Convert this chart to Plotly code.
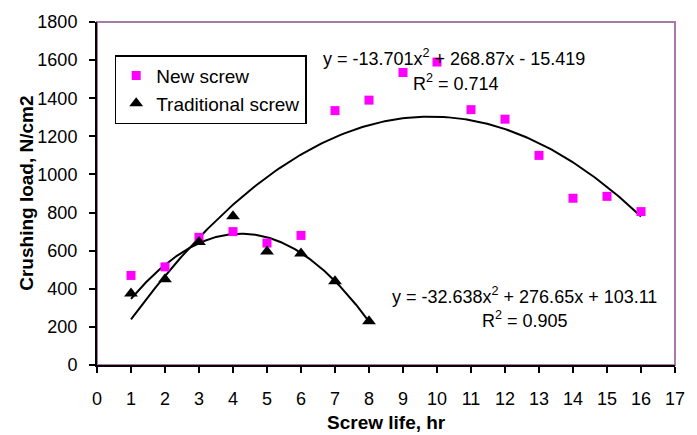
import numpy as np
import plotly.graph_objects as go

# Screw life (hours) and measured crushing load (N/cm2)
new_life = [1, 2, 3, 4, 5, 6, 7, 8, 9, 10, 11, 12, 13, 14, 15, 16]
new_load = [470, 515, 670, 700, 640, 680, 1335, 1390, 1535, 1590, 1340, 1290, 1100, 875, 885, 805]

trad_life = [1, 2, 3, 4, 5, 6, 7, 8]
trad_load = [375, 450, 645, 780, 595, 585, 440, 230]

# Second-order polynomial trendline coefficients (a*x^2 + b*x + c)
new_fit = [-13.701, 268.87, -15.419]
trad_fit = [-32.638, 276.65, 103.11]

x_ticks = list(range(0, 18))
y_ticks = list(range(0, 2000, 200))

FONT = "Liberation Sans, Arial, sans-serif"


def trend(coefs, x0, x1):
    xs = np.linspace(x0, x1, 200)
    return xs, np.polyval(coefs, xs)


fig = go.Figure()

nx, ny = trend(new_fit, min(new_life), max(new_life))
tx, ty = trend(trad_fit, min(trad_life), max(trad_life))

fig.add_trace(go.Scatter(x=nx, y=ny, mode="lines", line=dict(color="black", width=2),
                         showlegend=False, hoverinfo="skip"))
fig.add_trace(go.Scatter(x=tx, y=ty, mode="lines", line=dict(color="black", width=2),
                         showlegend=False, hoverinfo="skip"))

fig.add_trace(go.Scatter(
    x=new_life, y=new_load, mode="markers", name="New screw",
    marker=dict(symbol="square", size=9, color="#FF00FF", line=dict(width=0)),
))
fig.add_trace(go.Scatter(
    x=trad_life, y=trad_load, mode="markers", name="Traditional screw",
    marker=dict(symbol="triangle-up", size=12, color="black", line=dict(width=0)),
))

annotations = [
    dict(x=10.49, y=1615, xref="x", yref="y", showarrow=False,
         text="y = -13.701x<sup>2</sup> + 268.87x - 15.419", font=dict(size=18)),
    dict(x=10.55, y=1485, xref="x", yref="y", showarrow=False,
         text="R<sup>2</sup> = 0.714", font=dict(size=18)),
    dict(x=12.58, y=367, xref="x", yref="y", showarrow=False,
         text="y = -32.638x<sup>2</sup> + 276.65x + 103.11", font=dict(size=18)),
    dict(x=12.6, y=237, xref="x", yref="y", showarrow=False,
         text="R<sup>2</sup> = 0.905", font=dict(size=18)),
    dict(x=0.5, y=-0.169, xref="paper", yref="paper", showarrow=False,
         text="<b>Screw life, hr</b>", font=dict(size=19), yanchor="middle"),
    dict(x=-0.1224, y=0.5, xref="paper", yref="paper", showarrow=False,
         text="<b>Crushing load, N/cm2</b>", font=dict(size=19), textangle=-90,
         xanchor="center", yanchor="middle"),
]

fig.update_layout(
    width=697, height=435,
    margin=dict(l=97, r=12, t=19.5, b=69.5),
    paper_bgcolor="white", plot_bgcolor="white",
    font=dict(family=FONT, color="black", size=18),
    showlegend=True,
    legend=dict(
        x=0.0306, y=0.903, xanchor="left", yanchor="top",
        bgcolor="white", bordercolor="black", borderwidth=1.5,
        font=dict(size=19), itemwidth=30,
    ),
    annotations=annotations,
    shapes=[dict(type="rect", xref="paper", yref="paper", x0=0, y0=0, x1=1, y1=1,
                 line=dict(color="#A77BA7", width=2), layer="below")],
)

fig.update_xaxes(
    range=[0, 17], tickvals=x_ticks, ticktext=[str(v) for v in x_ticks],
    showgrid=False, zeroline=False, showline=True, linecolor="black", linewidth=2,
    ticks="outside", ticklen=6, tickwidth=1.5, tickcolor="black",
    tickfont=dict(size=18), ticklabelstandoff=10,
)
fig.update_yaxes(
    range=[0, 1800], tickvals=y_ticks, ticktext=[str(v) for v in y_ticks],
    showgrid=False, zeroline=False, showline=True, linecolor="black", linewidth=2,
    ticks="outside", ticklen=6, tickwidth=1.5, tickcolor="black",
    tickfont=dict(size=18), ticklabelstandoff=8,
)

fig.write_html("out.html")
